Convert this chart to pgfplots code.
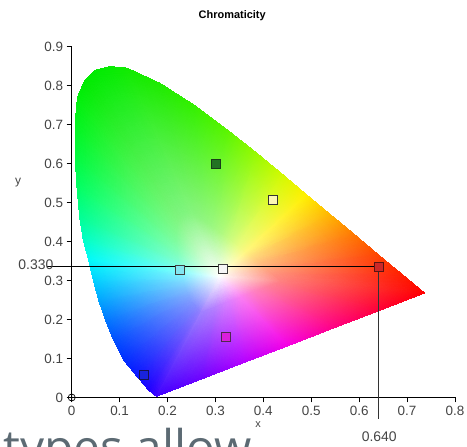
\documentclass[border=0pt]{standalone}
\usepackage{pgfplots}
\usepackage{pgfplotstable}
\pgfplotsset{compat=1.18}
\usepackage{fontspec}
\setmainfont{Liberation Sans}
\newfontfamily\osans{Open Sans}

\definecolor{lblgray}{RGB}{68,68,68}
\definecolor{overlaygray}{RGB}{92,106,115}

% spectral locus outline (b*) and an inner ring (i*) with the colours seen in the picture
\pgfplotstableread{
bx    by    br   bg   bb   ix    iy    ir   ig   ib
0.177 0.003 0.24 0    1    0.270 0.218 0.62 0.5  1
0.160 0.020 0.12 0    1    0.265 0.223 0.56 0.5  1
0.136 0.055 0.04 0.08 1    0.258 0.234 0.52 0.54 1
0.108 0.097 0    0.18 1    0.249 0.246 0.5  0.59 1
0.087 0.149 0    0.31 1    0.243 0.262 0.5  0.66 1
0.070 0.200 0    0.47 1    0.238 0.277 0.5  0.74 1
0.056 0.251 0    0.65 1    0.234 0.292 0.5  0.82 1
0.045 0.302 0    0.82 1    0.231 0.308 0.5  0.91 1
0.035 0.354 0    0.98 0.98 0.228 0.323 0.5  0.99 0.99
0.024 0.405 0    1    0.78 0.224 0.339 0.5  1    0.89
0.017 0.460 0    1    0.59 0.222 0.355 0.5  1    0.8
0.011 0.540 0    1    0.39 0.220 0.379 0.5  1    0.7
0.007 0.620 0    0.98 0.24 0.219 0.403 0.5  0.99 0.62
0.007 0.700 0    0.96 0.12 0.219 0.427 0.5  0.98 0.56
0.012 0.770 0    0.94 0.04 0.221 0.448 0.5  0.97 0.52
0.028 0.815 0    0.92 0    0.225 0.462 0.5  0.96 0.5
0.050 0.840 0    0.92 0    0.232 0.469 0.5  0.96 0.5
0.080 0.849 0.02 0.92 0    0.241 0.472 0.51 0.96 0.5
0.115 0.845 0.06 0.92 0    0.252 0.471 0.53 0.96 0.5
0.184 0.806 0.12 0.92 0    0.272 0.459 0.56 0.96 0.5
0.254 0.751 0.2  0.94 0    0.293 0.442 0.6  0.97 0.5
0.324 0.687 0.35 0.96 0    0.314 0.423 0.68 0.98 0.5
0.386 0.627 0.59 0.98 0    0.333 0.405 0.8  0.99 0.5
0.440 0.572 0.82 0.98 0    0.349 0.389 0.91 0.99 0.5
0.490 0.520 1    0.94 0    0.364 0.373 1    0.97 0.5
0.540 0.469 1    0.71 0    0.379 0.358 1    0.85 0.5
0.590 0.418 1    0.47 0    0.394 0.342 1    0.74 0.5
0.640 0.366 1    0.27 0    0.409 0.327 1    0.64 0.5
0.690 0.315 1    0.12 0    0.424 0.312 1    0.56 0.5
0.736 0.268 1    0    0    0.438 0.297 1    0.5  0.5
0.650 0.227 1    0    0.2  0.412 0.285 1    0.5  0.6
0.550 0.180 1    0    0.51 0.382 0.271 1    0.5  0.75
0.450 0.132 0.96 0    0.9  0.352 0.257 0.98 0.5  0.95
0.360 0.090 0.71 0    1    0.325 0.244 0.85 0.5  1
0.270 0.047 0.43 0    1    0.298 0.231 0.71 0.5  1
}\locus

\newcommand\getrow[2]{%
  \pgfplotsforeachungrouped \col in {bx,by,br,bg,bb,ix,iy,ir,ig,ib}{%
    \pgfplotstablegetelem{#1}{\col}\of\locus
    \expandafter\global\expandafter\let\csname #2\col\endcsname\pgfplotsretval
  }%
}

% triangles: white point -> inner ring -> outline
\gdef\tri{}
\pgfplotsforeachungrouped \ii in {0,...,34}{%
  \pgfmathtruncatemacro\jj{mod(\ii+1,35)}%
  \getrow{\ii}{P}\getrow{\jj}{Q}%
  \xdef\tri{\unexpanded\expandafter{\tri}%
    0.31 0.31 rgb=1,1,1\noexpand\\
    \Pix\space\Piy\space rgb=\Pir,\Pig,\Pib\noexpand\\
    \Qix\space\Qiy\space rgb=\Qir,\Qig,\Qib\noexpand\\
    \Pix\space\Piy\space rgb=\Pir,\Pig,\Pib\noexpand\\
    \Pbx\space\Pby\space rgb=\Pbr,\Pbg,\Pbb\noexpand\\
    \Qbx\space\Qby\space rgb=\Qbr,\Qbg,\Qbb\noexpand\\
    \Pix\space\Piy\space rgb=\Pir,\Pig,\Pib\noexpand\\
    \Qbx\space\Qby\space rgb=\Qbr,\Qbg,\Qbb\noexpand\\
    \Qix\space\Qiy\space rgb=\Qir,\Qig,\Qib\noexpand\\
  }%
}

\begin{document}
\begin{tikzpicture}
\useasboundingbox (-71.7bp,-49.5bp) rectangle (395.3bp,397.5bp);
\begin{axis}[
    at={(0,0)}, anchor=origin,
    scale only axis,
    width=383.3bp, height=350.8bp,
    xmin=0, xmax=0.8, ymin=0, ymax=0.9,
    axis lines=left,
    axis line style={-, black, line width=0.8pt},
    tick align=outside,
    major tick length=5bp,
    tick style={black, line width=0.6pt},
    xtick={0,0.1,0.2,0.3,0.4,0.5,0.6,0.7,0.8},
    ytick={0,0.1,0.2,0.3,0.4,0.5,0.6,0.7,0.8,0.9},
    ticklabel style={font=\fontsize{13.5}{13.5}\selectfont, text=lblgray},
    /pgf/number format/assume math mode=true,
    clip=false,
]
\edef\doplot{\noexpand\addplot[patch, shader=interp, mesh/color input=explicit,
    point meta=explicit symbolic, forget plot]
    table[row sep=\noexpand\\, meta=c] {x y c\noexpand\\\unexpanded\expandafter{\tri}};}
\doplot

% cursor lines
\addplot[black, line width=0.8pt] coordinates {(-0.052,0.336) (0.64,0.336)};
\addplot[black!80, line width=0.8pt] coordinates {(0.64,0.336) (0.64,-0.056)};

% measured points
\addplot[only marks, mark=square*, mark size=4.5bp, mark options={draw={rgb,255:red,25;green,60;blue,25}, fill={rgb,255:red,35;green,115;blue,35}, line width=0.8pt}] coordinates {(0.301,0.600)};
\addplot[only marks, mark=square*, mark size=4.5bp, mark options={draw=black!80, fill={rgb,255:red,252;green,246;blue,180}, line width=0.8pt}] coordinates {(0.419,0.507)};
\addplot[only marks, mark=square*, mark size=4.5bp, mark options={draw=black!75, fill={rgb,255:red,130;green,230;blue,240}, line width=0.8pt}] coordinates {(0.226,0.328)};
\addplot[only marks, mark=square*, mark size=4.5bp, mark options={draw=black!75, fill={rgb,255:red,246;green,246;blue,246}, line width=0.8pt}] coordinates {(0.315,0.330)};
\addplot[only marks, mark=square*, mark size=4.5bp, mark options={draw={rgb,255:red,90;green,20;blue,20}, fill={rgb,255:red,205;green,40;blue,40}, line width=0.8pt}] coordinates {(0.642,0.336)};
\addplot[only marks, mark=square*, mark size=4.5bp, mark options={draw={rgb,255:red,80;green,40;blue,80}, fill={rgb,255:red,220;green,30;blue,220}, line width=0.8pt}] coordinates {(0.321,0.155)};
\addplot[only marks, mark=square*, mark size=4.5bp, mark options={draw={rgb,255:red,20;green,20;blue,80}, fill={rgb,255:red,25;green,35;blue,220}, line width=0.8pt}] coordinates {(0.151,0.059)};
\addplot[only marks, mark=oplus, mark size=3.5bp, mark options={black, line width=0.7pt}] coordinates {(0,0)};

\node[anchor=east, inner sep=0, text=lblgray, font=\fontsize{14}{14}\selectfont] at (axis cs:-0.038,0.341) {0.330};
\node[inner sep=0, text=lblgray, font=\fontsize{14}{14}\selectfont] at (axis cs:0.642,-0.100) {0.640};
\node[inner sep=0, text=lblgray, font=\fontsize{12}{12}\selectfont] at (axis cs:-0.112,0.551) {y};
\node[inner sep=0, text=lblgray, font=\fontsize{11}{11}\selectfont] at (axis cs:0.389,-0.070) {x};
\node[inner sep=0, font=\bfseries\fontsize{11}{11}\selectfont] at (axis cs:0.335,0.979) {Chromaticity};
\end{axis}
\node[anchor=base west, inner sep=0, text=overlaygray] at (-68.7bp,-67bp) {\osans\fontsize{48}{48}\selectfont types allow};
\end{tikzpicture}
\end{document}
